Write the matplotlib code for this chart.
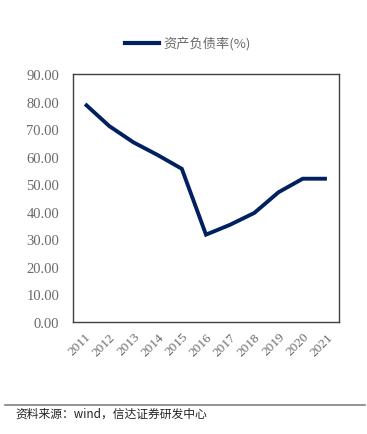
import matplotlib.pyplot as plt
from matplotlib.lines import Line2D

# data
years = ['2011', '2012', '2013', '2014', '2015', '2016',
         '2017', '2018', '2019', '2020', '2021']
debt_ratio = [79.1, 71.1, 65.2, 60.6, 55.6, 31.7, 35.3, 39.6, 47.1, 52.0, 52.0]
y_ticks = [0, 10, 20, 30, 40, 50, 60, 70, 80, 90]

line_color = '#002060'
text_grey = '#6a6a6a'
cjk = ['Noto Sans CJK SC', 'DejaVu Sans']

fig = plt.figure(figsize=(3.67, 4.35), dpi=100)
W, H = 367, 435
ax = fig.add_axes([73 / W, 1 - 323 / H, 266 / W, 248 / H])

x = list(range(len(years)))
ax.plot(x, debt_ratio, color=line_color, linewidth=2.8, solid_capstyle='butt',
        solid_joinstyle='miter')
ax.set_xlim(-0.5, len(years) - 0.5)
ax.set_ylim(0, 90)
ax.set_yticks(y_ticks)
ax.set_yticklabels([f'{v:.2f}' for v in y_ticks], family='Liberation Serif',
                   fontsize=10.5, color=text_grey)
ax.set_xticks(x)
ax.set_xticklabels(years, rotation=45, ha='right', rotation_mode='anchor',
                   family='Liberation Serif', fontsize=9.5, color=text_grey)
ax.tick_params(length=0, pad=10)
ax.tick_params(axis='x', pad=6)
for s in ax.spines.values():
    s.set_color('#404040')
    s.set_linewidth(1.0)

# legend at the top
handle = Line2D([], [], color=line_color, linewidth=3)
fig.legend([handle], ['资产负债率(%)'], loc='center', bbox_to_anchor=(188 / W, 1 - 45 / H),
           frameon=False, prop={'family': cjk, 'size': 9.5}, labelcolor=text_grey,
           handlelength=2.6, handletextpad=0.3)

# footer rule and source note
fig.add_artist(Line2D([5 / W, 365 / W], [1 - 406 / H, 1 - 406 / H],
                      color='#808080', linewidth=1.2))
fig.text(15 / W, 1 - 414 / H, '资料来源：wind，信达证券研发中心', family=cjk,
         fontsize=8.5, style='italic', color='#222222', va='center', ha='left')

fig.savefig('out.png', dpi=100)
